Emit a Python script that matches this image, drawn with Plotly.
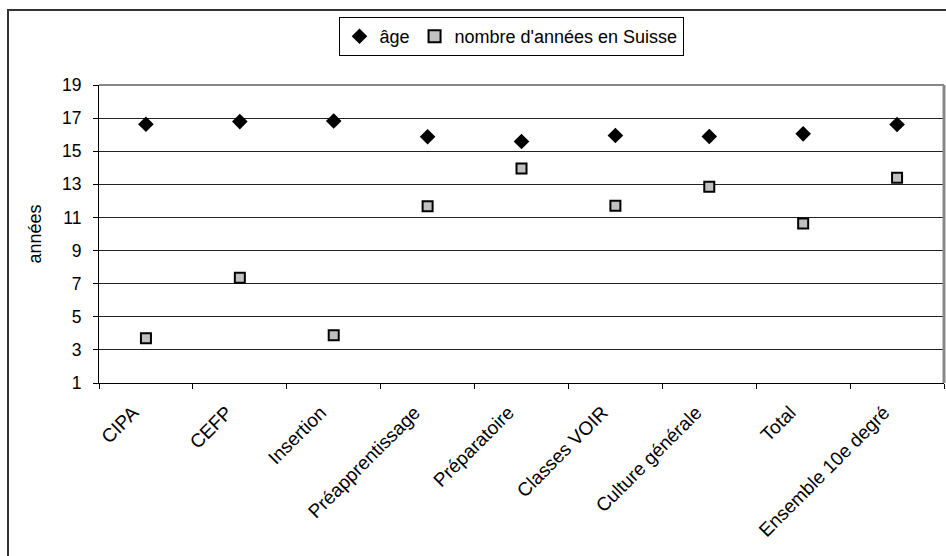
import plotly.graph_objects as go

categories = ["CIPA", "CEFP", "Insertion", "Préapprentissage", "Préparatoire",
              "Classes VOIR", "Culture générale", "Total", "Ensemble 10e degré"]
age = [16.63, 16.79, 16.83, 15.87, 15.59, 15.95, 15.89, 16.05, 16.61]
annees_suisse = [3.70, 7.35, 3.88, 11.67, 13.96, 11.71, 12.86, 10.63, 13.40]
y_ticks = [1, 3, 5, 7, 9, 11, 13, 15, 17, 19]

FONT = "Liberation Sans, Arial, sans-serif"
FS = 17.5

fig = go.Figure()
fig.add_trace(go.Scatter(
    x=categories, y=age, mode="markers", name="âge",
    marker=dict(symbol="diamond", size=12, color="black",
                line=dict(color="black", width=0)),
))
fig.add_trace(go.Scatter(
    x=categories, y=annees_suisse, mode="markers", name="nombre d'années en Suisse",
    marker=dict(symbol="square", size=10, color="#c0c0c0",
                line=dict(color="black", width=2)),
))

# plot area: x 99..944, y 85..383
L, R, T, B = 99, 944, 85, 383
W, H = R - L, B - T
def px(x):
    return (x - L) / W
def py(y):
    return (B - y) / H

fig.update_layout(
    width=946, height=556,
    margin=dict(l=L, r=946 - R, t=T, b=556 - B, pad=0, autoexpand=False),
    paper_bgcolor="white", plot_bgcolor="white",
    font=dict(family=FONT, size=FS, color="black"),
    showlegend=True,
    legend=dict(orientation="h", x=px(511), xanchor="center", y=py(17), yanchor="top",
                bordercolor="black", borderwidth=1, bgcolor="white",
                font=dict(family=FONT, size=18, color="black"),
                itemsizing="constant", itemwidth=30),
    xaxis=dict(type="category", tickson="boundaries", tickangle=-45,
               ticks="outside", ticklen=5, tickcolor="black",
               showline=True, linecolor="black", linewidth=1, mirror=False,
               showgrid=False, zeroline=False, range=[-0.5, 8.5],
               ticklabelstandoff=10, ticklabelshift=-13,
               tickfont=dict(family=FONT, size=19, color="black")),
    yaxis=dict(range=[1, 19], tickvals=y_ticks, ticks="outside", ticklen=5,
               tickcolor="black", showline=True, linecolor="black", linewidth=1,
               showgrid=True, gridcolor="#222222", gridwidth=1, zeroline=False,
               ticklabelstandoff=8,
               title=dict(text="années", font=dict(family=FONT, size=18)),
               tickfont=dict(family=FONT, size=FS, color="black")),
    shapes=[
        dict(type="line", xref="paper", yref="paper", x0=0, x1=1, y0=1, y1=1,
             line=dict(color="#888888", width=2)),
        dict(type="line", xref="paper", yref="paper", x0=1, x1=1, y0=0, y1=1,
             line=dict(color="#888888", width=3)),
        dict(type="rect", xref="paper", yref="paper",
             x0=px(8), x1=px(960), y0=py(570), y1=py(10),
             line=dict(color="#333333", width=2), fillcolor="rgba(0,0,0,0)"),
    ],
)

fig.write_html("out.html", config={"displayModeBar": False},
               post_script="document.body.style.margin='0';document.body.style.padding='0';")
